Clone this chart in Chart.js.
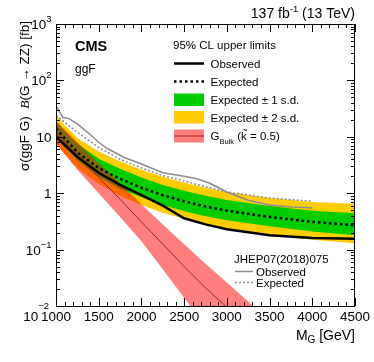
<!DOCTYPE html>
<html><head><meta charset="utf-8">
<script src="https://cdn.jsdelivr.net/npm/chart.js@4"></script>
<style>html,body{margin:0;padding:0;background:#fff;}canvas{display:block;}</style>
</head><body>
<canvas id="c" width="374" height="362"></canvas>
<script>
// ---- data ----
const masses     = [1000, 1100, 1250, 1500, 1750, 2000, 2250, 2500, 2750, 3000, 3500, 4000, 4500];
const observed   = [10,   7.2,  4.4,  2.3,  1.4,  0.92, 0.6,  0.36, 0.28, 0.23, 0.18, 0.16, 0.155];
const expected   = [14,   9.5,  5.3,  2.8,  1.8,  1.25, 0.92, 0.72, 0.58, 0.49, 0.38, 0.31, 0.27];
const expPlus2   = [25,   16,   9.5,  5.5,  3.7,  2.6,  1.95, 1.55, 1.25, 1.05, 0.82, 0.7,  0.65];
const expPlus1   = [19,   12.5, 7.5,  4.1,  2.7,  1.9,  1.4,  1.1,  0.9,  0.76, 0.59, 0.49, 0.44];
const expMinus1  = [10,   6.8,  3.8,  1.95, 1.2,  0.85, 0.62, 0.48, 0.39, 0.33, 0.26, 0.21, 0.18];
const expMinus2  = [7.5,  5,    2.8,  1.45, 0.9,  0.62, 0.45, 0.35, 0.28, 0.23, 0.18, 0.15, 0.13];

const prevObsMasses = [1000, 1080, 1150, 1250, 1400, 1500, 1600, 1800, 2000, 2250, 2500, 2650, 2800, 3000, 3250, 3500, 3750, 4000];
const prevObserved  = [36,   22,   21,   17,   11,   8.0,  6.2,  4.3,  3.3,  2.3,  2.0,  1.8,  1.5,  1.05, 0.75, 0.62, 0.57, 0.55];
const prevExpMasses = [1000, 1250, 1500, 1750, 2000, 2250, 2500, 2750, 3000, 3500, 4000];
const prevExpected  = [24,   12,   6.5,  4.0,  2.8,  2.05, 1.65, 1.3,  1.05, 0.82, 0.72];

const gravMasses  = [1000, 1250, 1500, 1750, 2000, 2250, 2500, 2750, 3000, 3250, 3500];
const gravCentral = [12,   4.6,  1.9,  0.78, 0.31, 0.125, 0.05, 0.021, 0.0095, 0.0042, 0.0019];
const gravUp      = [19,   8,    3.4,  1.5,  0.64, 0.28, 0.125, 0.056, 0.026, 0.012, 0.0055];
const gravDown    = [7.5,  2.6,  1.0,  0.38, 0.14, 0.045, 0.014, 0.0045, 0.0015, 0.0005, 0.0002];

const xTickLabels = [1000, 1500, 2000, 2500, 3000, 3500, 4000, 4500];
const yTickExps   = [-2, -1, 0, 1, 2, 3];

// ---- styles ----
const FF = "'Liberation Sans', Arial, Helvetica, sans-serif";
const GREEN = 'rgb(0,204,0)';
const YELLOW = 'rgb(255,204,0)';
const RED = 'rgba(255,0,0,0.5)';
const DARKRED = 'rgb(170,30,30)';
const GRAY = 'rgb(140,140,140)';

function pts(xs, ys) { return xs.map((x, i) => ({x: x, y: ys[i]})); }
const base = {pointRadius: 0, tension: 0, borderWidth: 0, fill: false};

const datasets = [
  Object.assign({}, base, {label: 'exp+2', data: pts(masses, expPlus2), fill: 1, backgroundColor: YELLOW}),
  Object.assign({}, base, {label: 'exp-2', data: pts(masses, expMinus2)}),
  Object.assign({}, base, {label: 'exp+1', data: pts(masses, expPlus1), fill: 3, backgroundColor: GREEN}),
  Object.assign({}, base, {label: 'exp-1', data: pts(masses, expMinus1)}),
  Object.assign({}, base, {label: 'prevObs', data: pts(prevObsMasses, prevObserved), borderWidth: 1.5, borderColor: GRAY}),
  Object.assign({}, base, {label: 'prevExp', data: pts(prevExpMasses, prevExpected), borderWidth: 1.5, borderColor: GRAY, borderDash: [2, 2]}),
  Object.assign({}, base, {label: 'gravUp', data: pts(gravMasses, gravUp), fill: 7, backgroundColor: RED}),
  Object.assign({}, base, {label: 'gravDown', data: pts(gravMasses, gravDown)}),
  Object.assign({}, base, {label: 'gravCentral', data: pts(gravMasses, gravCentral), borderWidth: 1, borderColor: DARKRED}),
  Object.assign({}, base, {label: 'Expected', data: pts(masses, expected), borderWidth: 2.5, borderColor: '#000', borderDash: [2.5, 3]}),
  Object.assign({}, base, {label: 'Observed', data: pts(masses, observed), borderWidth: 2.5, borderColor: '#000'})
];
datasets.forEach((d, i) => { d.order = 100 - i; });

function setFont(ctx, s) {
  ctx.font = (s.b ? 'bold ' : '') + (s.i ? 'italic ' : '') + s.s + 'px ' + (s.f || FF);
}
function rich(ctx, segs, x, y, align) {
  let w = 0;
  segs.forEach(s => { setFont(ctx, s); s.w = ctx.measureText(s.t).width; w += s.w; });
  let cx = align === 'right' ? x - w : (align === 'center' ? x - w / 2 : x);
  ctx.textAlign = 'left'; ctx.textBaseline = 'alphabetic';
  segs.forEach(s => {
    setFont(ctx, s);
    ctx.fillText(s.t, cx, y + (s.dy || 0));
    if (s.tilde) {
      ctx.font = (s.s * 0.8) + 'px ' + FF;
      const tw = ctx.measureText('~').width;
      ctx.fillText('~', cx + s.w / 2 - tw / 2 + 1, y - s.s * 0.62);
    }
    cx += s.w;
  });
}

const decor = {
  id: 'decor',
  afterDraw(chart) {
    const ctx = chart.ctx, xs = chart.scales.x, ys = chart.scales.y, a = chart.chartArea;
    ctx.save();
    ctx.fillStyle = '#000'; ctx.strokeStyle = '#000'; ctx.lineWidth = 1;
    // frame
    ctx.strokeRect(a.left + 0.5, a.top + 0.5, a.right - a.left - 1, a.bottom - a.top);
    // x ticks
    ctx.beginPath();
    for (let m = 1000; m <= 4500; m += 100) {
      const px = Math.round(xs.getPixelForValue(m)) + 0.5;
      const len = (m % 500 === 0) ? 8 : 4;
      ctx.moveTo(px, a.bottom); ctx.lineTo(px, a.bottom - len);
      ctx.moveTo(px, a.top); ctx.lineTo(px, a.top + len);
    }
    // y ticks
    for (let e = -2; e <= 3; e++) {
      for (let k = 1; k <= 9; k++) {
        if (e === 3 && k > 1) break;
        const v = k * Math.pow(10, e);
        const py = Math.round(ys.getPixelForValue(v)) + 0.5;
        const len = k === 1 ? 8 : 4;
        ctx.moveTo(a.left, py); ctx.lineTo(a.left + len, py);
        ctx.moveTo(a.right, py); ctx.lineTo(a.right - len, py);
      }
    }
    ctx.stroke();
    // x tick labels
    ctx.font = '13.5px ' + FF; ctx.textAlign = 'center'; ctx.textBaseline = 'alphabetic';
    xTickLabels.forEach(m => { ctx.fillText(String(m), xs.getPixelForValue(m), 321); });
    // y tick labels
    yTickExps.forEach(e => {
      let py = ys.getPixelForValue(Math.pow(10, e)) + 5;
      let supDy = -7;
      let rx = 51.5;
      if (e === -2) { py = 321; supDy = -12; rx = 49; }
      let segs;
      if (e === 0) segs = [{t: '1', s: 13.5}];
      else if (e === 1) segs = [{t: '10', s: 13.5}];
      else segs = [{t: '10', s: 13.5}, {t: String(e).replace('-', '\u2212'), s: 9.5, dy: supDy}];
      rich(ctx, segs, rx, py, 'right');
    });
    // x axis title
    rich(ctx, [{t: 'M', s: 14}, {t: 'G', s: 10, dy: 3}, {t: ' [GeV]', s: 14}], a.right, 340, 'right');
    // y axis title
    ctx.save();
    ctx.translate(29, 21); ctx.rotate(-Math.PI / 2);
    rich(ctx, [{t: '\u03c3(ggF G)  ', s: 13.5}, {t: 'B', s: 13.5, i: true, f: "'Liberation Serif', serif"}, {t: '(G \u2192 ZZ) [fb]', s: 13.5}], 0, 0, 'right');
    ctx.restore();
    // top right lumi text
    rich(ctx, [{t: '137 fb', s: 14}, {t: '-1', s: 9.5, dy: -6}, {t: ' (13 TeV)', s: 14}], a.right, 18, 'right');
    // CMS, ggF
    rich(ctx, [{t: 'CMS', s: 14.5, b: true}], 75, 50.5, 'left');
    rich(ctx, [{t: 'ggF', s: 12}], 75, 73, 'left');
    // main legend
    const lf = 11.5;
    rich(ctx, [{t: '95% CL upper limits', s: lf}], 173, 49, 'left');
    const sx0 = 174, sx1 = 204, tx = 210.5;
    ctx.lineWidth = 2.5; ctx.strokeStyle = '#000';
    ctx.beginPath(); ctx.moveTo(sx0, 63.5); ctx.lineTo(sx1, 63.5); ctx.stroke();
    rich(ctx, [{t: 'Observed', s: lf}], tx, 67.5, 'left');
    ctx.setLineDash([2.5, 3]);
    ctx.beginPath(); ctx.moveTo(sx0, 81.5); ctx.lineTo(sx1, 81.5); ctx.stroke();
    ctx.setLineDash([]);
    rich(ctx, [{t: 'Expected', s: lf}], tx, 86, 'left');
    ctx.fillStyle = GREEN; ctx.fillRect(sx0, 93.5, sx1 - sx0, 12.5);
    ctx.fillStyle = '#000';
    rich(ctx, [{t: 'Expected \u00b1 1 s.d.', s: lf}], tx, 104, 'left');
    ctx.fillStyle = YELLOW; ctx.fillRect(sx0, 111, sx1 - sx0, 12.5);
    ctx.fillStyle = '#000';
    rich(ctx, [{t: 'Expected \u00b1 2 s.d.', s: lf}], tx, 122, 'left');
    ctx.fillStyle = RED; ctx.fillRect(sx0, 129.5, sx1 - sx0, 13);
    ctx.strokeStyle = DARKRED; ctx.lineWidth = 1;
    ctx.beginPath(); ctx.moveTo(sx0, 136); ctx.lineTo(sx1, 136); ctx.stroke();
    ctx.fillStyle = '#000';
    rich(ctx, [{t: 'G', s: lf}, {t: 'Bulk', s: 7.5, dy: 3.5}, {t: ' (', s: lf}, {t: 'k', s: lf, tilde: true}, {t: ' = 0.5)', s: lf}], tx, 140, 'left');
    // lower legend
    rich(ctx, [{t: 'JHEP07(2018)075', s: lf}], 234, 262.5, 'left');
    ctx.strokeStyle = GRAY; ctx.lineWidth = 1.5;
    ctx.beginPath(); ctx.moveTo(235, 271.5); ctx.lineTo(253, 271.5); ctx.stroke();
    ctx.setLineDash([2, 2]);
    ctx.beginPath(); ctx.moveTo(235, 282.5); ctx.lineTo(253, 282.5); ctx.stroke();
    ctx.setLineDash([]);
    rich(ctx, [{t: 'Observed', s: lf}], 256, 275.5, 'left');
    rich(ctx, [{t: 'Expected', s: lf}], 256, 286.5, 'left');
    ctx.restore();
  }
};

new Chart(document.getElementById('c'), {
  type: 'line',
  data: {datasets: datasets},
  options: {
    responsive: false, animation: false, devicePixelRatio: 1,
    parsing: true,
    layout: {padding: {left: 56, right: 19, top: 24, bottom: 56}},
    scales: {
      x: {type: 'linear', min: 1000, max: 4500, display: false},
      y: {type: 'logarithmic', min: 0.01, max: 1000, display: false}
    },
    plugins: {legend: {display: false}, tooltip: {enabled: false}, filler: {propagate: false}}
  },
  plugins: [decor]
});
</script>
</body></html>
